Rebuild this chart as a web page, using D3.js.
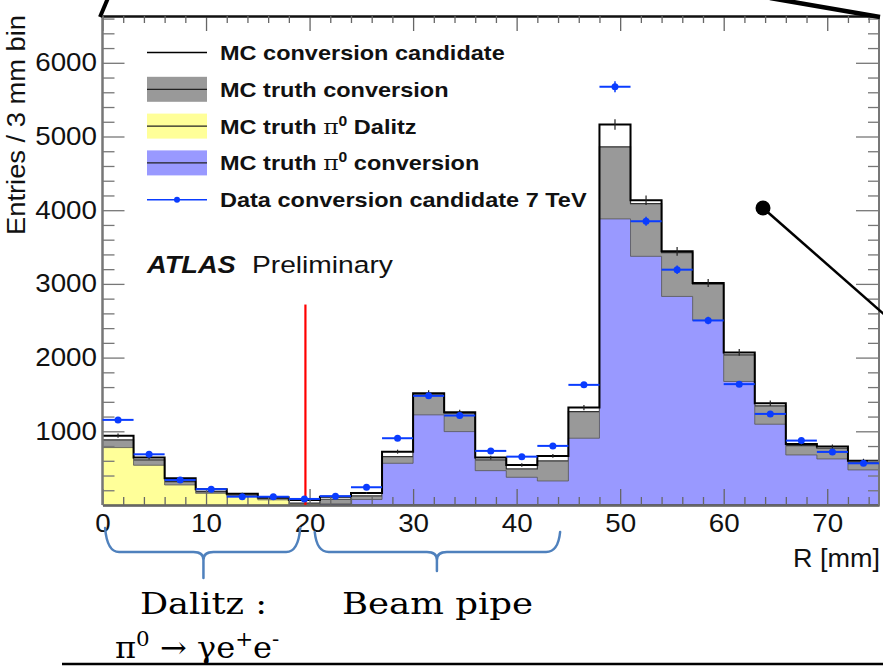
<!DOCTYPE html>
<html><head><meta charset="utf-8">
<script src="https://cdn.jsdelivr.net/npm/d3@7/dist/d3.min.js"></script>
<style>body{margin:0;background:#fff;} svg{display:block;}</style>
</head><body><svg id="c" width="883" height="671"></svg>
<script>
// ---------------- data ----------------
const binStart = [0,3,6,9,12,15,18,21,24,27,30,33,36,39,42,45,48,51,54,57,60,63,66,69,72];
const binWidth = 3;
const mcCandidate    = [941,643,362,213,154,102,68,113,162,724,1517,1259,643,543,666,1322,5163,4135,3442,3012,2070,1381,829,793,602];
const mcCandidateErr = [30,25,19,15,12,10,8,11,13,27,39,35,25,23,26,36,72,64,59,55,45,37,29,28,25];
const mcTruthConv    = [883,611,317,181,136,92,25,78,124,656,1495,1246,611,489,598,1268,4860,4090,3425,2995,2038,1345,806,770,580];
const mcPi0Dalitz    = [779,539,272,159,118,70,12,0,0,0,0,0,0,0,0,0,0,0,0,0,0,0,0,0,0];
const mcPi0Conv      = [0,0,0,0,0,0,8,15,75,566,1223,996,466,376,326,906,3882,3374,2830,2504,1676,1096,679,625,476];
const dataCand       = [1155,688,340,215,113,112,82,120,240,906,1481,1214,734,656,802,1630,5675,3850,3193,2504,1640,1236,874,720,566];
const dataErr        = [34,26,18,15,11,11,9,11,15,30,38,35,27,26,28,40,75,62,57,50,40,35,30,27,24];

const xMajorTicks = [0,10,20,30,40,50,60,70];
const xMinorTicks = [2,4,6,8,12,14,16,18,22,24,26,28,32,34,36,38,42,44,46,48,52,54,56,58,62,64,66,68,72,74];
const yMajorTicks = [1000,2000,3000,4000,5000,6000];
const yMinorTicks = [200,400,600,800,1200,1400,1600,1800,2200,2400,2600,2800,3200,3400,3600,3800,4200,4400,4600,4800,5200,5400,5600,5800,6200,6400,6600];

const legendLabels = ["MC conversion candidate","MC truth conversion","MC truth π0 Dalitz","MC truth π0 conversion","Data conversion candidate 7 TeV"];
const xLabel = "R [mm]";
const yLabel = "Entries / 3 mm bin";
const redLineX = 19.6, redLineTop = 2720;
const braces = [{from:0.25,to:19.1,tip:9.75,label:"Dalitz :"},{from:20.5,to:44.2,tip:32.3,label:"Beam pipe"}];

// ---------------- layout ----------------
const svg = d3.select("#c");
const X0 = 102.5, X1 = 879, Y0 = 505, Y1 = 16;
const x = d3.scaleLinear().domain([0,75]).range([X0,X1]);
const y = d3.scaleLinear().domain([0,6635]).range([Y0,Y1]);
const SX = 1.11; // horizontal stretch of the original raster text

function steps(vals){
  const pts=[];
  vals.forEach((v,i)=>{pts.push([binStart[i],v]);pts.push([binStart[i]+binWidth,v]);});
  return pts;
}
const area = d3.area().x(d=>x(d[0])).y0(y(0)).y1(d=>y(d[1]));
const line = d3.line().x(d=>x(d[0])).y(d=>y(d[1]));

const g = svg.append("g");
g.append("path").attr("d",area(steps(mcTruthConv))).attr("fill","#999999");
g.append("path").attr("d",line(steps(mcTruthConv))).attr("fill","none").attr("stroke","#333").attr("stroke-width",1.2);
g.append("path").attr("d",area(steps(mcPi0Conv))).attr("fill","#9999ff");
g.append("path").attr("d",line(steps(mcPi0Conv))).attr("fill","none").attr("stroke","#555").attr("stroke-width",0.8);
g.append("path").attr("d",area(steps(mcPi0Dalitz))).attr("fill","#ffff99");
g.append("path").attr("d",line(steps(mcPi0Dalitz))).attr("fill","none").attr("stroke","#555").attr("stroke-width",0.8);
g.append("path").attr("d",line(steps(mcCandidate))).attr("fill","none").attr("stroke","#000").attr("stroke-width",2);
g.selectAll("line.ce").data(mcCandidate).join("line").attr("class","ce")
  .attr("x1",(d,i)=>x(binStart[i]+binWidth/2)).attr("x2",(d,i)=>x(binStart[i]+binWidth/2))
  .attr("y1",(d,i)=>y(d-mcCandidateErr[i])).attr("y2",(d,i)=>y(d+mcCandidateErr[i]))
  .attr("stroke","#222").attr("stroke-width",1.2);

// axes
function styleAxis(sel,color){
  sel.selectAll("line").attr("stroke",color).attr("stroke-width",1.3);
  sel.select(".domain").attr("stroke",color).attr("stroke-width",2);
  sel.selectAll("text").attr("font-family","'Liberation Sans', Arial, sans-serif").attr("font-size",25).attr("fill","#111");
}
const axB = svg.append("g").attr("transform",`translate(0,${Y0})`)
  .call(d3.axisBottom(x).tickValues(xMajorTicks).tickSize(-16).tickSizeOuter(0).tickPadding(9).tickFormat(d3.format("d")));
styleAxis(axB,"#666");
axB.selectAll("text").attr("transform",`scale(${SX},1)`);
const axBm = svg.append("g").attr("transform",`translate(0,${Y0})`)
  .call(d3.axisBottom(x).tickValues(xMinorTicks).tickSize(-8).tickSizeOuter(0).tickFormat(""));
styleAxis(axBm,"#666");
const axT = svg.append("g").attr("transform",`translate(0,${Y1})`)
  .call(d3.axisTop(x).tickValues(xMajorTicks).tickSize(-15).tickSizeOuter(0).tickFormat(""));
styleAxis(axT,"#666");
const axTm = svg.append("g").attr("transform",`translate(0,${Y1})`)
  .call(d3.axisTop(x).tickValues(xMinorTicks).tickSize(-7).tickSizeOuter(0).tickFormat(""));
styleAxis(axTm,"#666");
axT.select(".domain").attr("stroke","#111"); axTm.select(".domain").attr("stroke","#111");
const axL = svg.append("g").attr("transform",`translate(${X0},0)`)
  .call(d3.axisLeft(y).tickValues(yMajorTicks).tickSize(-22).tickSizeOuter(0).tickPadding(5).tickFormat(d3.format("d")));
styleAxis(axL,"#777");
axL.selectAll("text").attr("transform",`scale(${SX},1)`);
const axLm = svg.append("g").attr("transform",`translate(${X0},0)`)
  .call(d3.axisLeft(y).tickValues(yMinorTicks).tickSize(-12).tickSizeOuter(0).tickFormat(""));
styleAxis(axLm,"#777");
const axR = svg.append("g").attr("transform",`translate(${X1},0)`)
  .call(d3.axisRight(y).tickValues(yMajorTicks).tickSize(-23).tickSizeOuter(0).tickFormat(""));
styleAxis(axR,"#777");
const axRm = svg.append("g").attr("transform",`translate(${X1},0)`)
  .call(d3.axisRight(y).tickValues(yMinorTicks).tickSize(-11).tickSizeOuter(0).tickFormat(""));
styleAxis(axRm,"#777");
[axL,axLm,axR,axRm].forEach(a=>a.select(".domain").attr("d",`M0,${Y0}V${Y1}`));
axB.select(".domain").attr("stroke","#333");

// red line
svg.append("line").attr("x1",x(redLineX)).attr("x2",x(redLineX)).attr("y1",y(0)).attr("y2",y(redLineTop))
  .attr("stroke","#ff0000").attr("stroke-width",2.2);

// data points
const BLUE = "#0a3cff";
const dp = svg.append("g");
dataCand.forEach((v,i)=>{
  const cx = x(binStart[i]+binWidth/2);
  dp.append("line").attr("x1",x(binStart[i])).attr("x2",x(binStart[i]+binWidth)).attr("y1",y(v)).attr("y2",y(v)).attr("stroke",BLUE).attr("stroke-width",2);
  dp.append("line").attr("x1",cx).attr("x2",cx).attr("y1",y(v-dataErr[i])).attr("y2",y(v+dataErr[i])).attr("stroke",BLUE).attr("stroke-width",1.5);
  dp.append("circle").attr("cx",cx).attr("cy",y(v)).attr("r",3.5).attr("fill",BLUE);
});

function sText(parent,tx,ty,opts){
  const gg = parent.append("g").attr("transform",`translate(${tx},${ty}) scale(${opts.sx||SX},1)`);
  return gg.append("text").attr("font-family",opts.family||"'Liberation Sans', Arial, sans-serif")
    .attr("font-size",opts.size||21).attr("font-weight",opts.weight||"normal")
    .attr("font-style",opts.style||"normal").attr("text-anchor",opts.anchor||"start").attr("fill",opts.fill||"#111");
}

// legend
const LX = 147, LW = 60, LTX = 220, LY0 = 60, LDY = 36.8;
const lg = svg.append("g");
const fills = [null,"#999999","#ffff99","#9999ff",null];
legendLabels.forEach((lab,i)=>{
  const base = LY0 + i*LDY, cy = base - 7.5;
  if(fills[i]){
    lg.append("rect").attr("x",LX).attr("y",cy-12.5).attr("width",LW).attr("height",25).attr("fill",fills[i]);
    lg.append("line").attr("x1",LX).attr("x2",LX+LW).attr("y1",cy).attr("y2",cy).attr("stroke","#222").attr("stroke-width",1.2);
  } else if(i===0){
    lg.append("line").attr("x1",LX).attr("x2",LX+LW).attr("y1",cy).attr("y2",cy).attr("stroke","#000").attr("stroke-width",1.6);
  } else {
    lg.append("line").attr("x1",LX).attr("x2",LX+LW).attr("y1",cy).attr("y2",cy).attr("stroke",BLUE).attr("stroke-width",1.6);
    lg.append("circle").attr("cx",LX+LW/2).attr("cy",cy).attr("r",3).attr("fill",BLUE);
  }
  const t = sText(lg,LTX,base,{size:21,weight:"bold",sx:1.12});
  const m = lab.match(/^(.*)π0(.*)$/);
  if(m){
    t.append("tspan").text(m[1]);
    t.append("tspan").attr("font-family","'DejaVu Serif', serif").attr("font-weight","normal").text("π");
    t.append("tspan").attr("font-size",14).attr("dy",-8).text("0");
    t.append("tspan").attr("dy",8).text(m[2]);
  } else t.text(lab);
});

// ATLAS Preliminary
sText(svg,147,273,{size:23.5,weight:"bold",style:"italic",sx:1.16}).text("ATLAS");
sText(svg,252,273,{size:23.5,sx:1.2}).text("Preliminary");

// axis titles
sText(svg,880,567,{size:25,anchor:"end",sx:1.08}).text(xLabel);
svg.append("text").attr("transform","translate(25,125) rotate(-90)").attr("text-anchor","middle")
  .attr("font-family","'Liberation Sans', Arial, sans-serif").attr("font-size",25).attr("fill","#111")
  .attr("textLength",220).attr("lengthAdjust","spacingAndGlyphs").text(yLabel);

// braces
const BR = "#4f81bd";
function bracePath(x1,x2,xt,yTop,yMid,yTip){
  const r=10;
  return `M${x1},${yTop} Q${x1+2},${yMid} ${x1+r+4},${yMid} L${xt-r},${yMid} Q${xt},${yMid} ${xt},${yMid+8} L${xt},${yTip}`+
         ` M${xt},${yMid+8} Q${xt},${yMid} ${xt+r},${yMid} L${x2-r-4},${yMid} Q${x2-2},${yMid} ${x2},${yTop}`;
}
const braceGeom = [{yTop:528,yMid:552,yTip:578},{yTop:532,yMid:552,yTip:571}];
braces.forEach((b,i)=>{
  const geo = braceGeom[i];
  svg.append("path").attr("d",bracePath(x(b.from),x(b.to),x(b.tip),geo.yTop,geo.yMid,geo.yTip))
    .attr("fill","none").attr("stroke",BR).attr("stroke-width",2.5).attr("stroke-linecap","round");
});
svg.append("text").attr("x",140).attr("y",614).attr("font-family","'DejaVu Serif', serif").attr("font-size",30)
  .attr("textLength",127).attr("lengthAdjust","spacingAndGlyphs").attr("fill","#000").text(braces[0].label);
svg.append("text").attr("x",342).attr("y",614).attr("font-family","'DejaVu Serif', serif").attr("font-size",30)
  .attr("textLength",191).attr("lengthAdjust","spacingAndGlyphs").attr("fill","#000").text(braces[1].label);
const pt = svg.append("g").attr("transform","translate(115,658) scale(1.07,1)")
  .append("text").attr("font-family","'DejaVu Serif', serif").attr("font-size",30).attr("fill","#000");
pt.append("tspan").text("π");
pt.append("tspan").attr("font-size",20).attr("dy",-12).text("0");
pt.append("tspan").attr("dy",12).text(" → γe");
pt.append("tspan").attr("font-size",20).attr("dy",-12).text("+");
pt.append("tspan").attr("dy",12).text("e");
pt.append("tspan").attr("font-size",20).attr("dy",-12).text("-");

// slide overlay lines
const ov = svg.append("g").attr("stroke","#000").attr("fill","none");
ov.append("line").attr("x1",100).attr("y1",17).attr("x2",108).attr("y2",-2).attr("stroke-width",4);
ov.append("line").attr("x1",880).attr("y1",17).attr("x2",770).attr("y2",-2).attr("stroke-width",4.5);
ov.append("line").attr("x1",763).attr("y1",208).attr("x2",886).attr("y2",316).attr("stroke-width",2.5);
svg.append("circle").attr("cx",763).attr("cy",208).attr("r",7.5).attr("fill","#000");
ov.append("line").attr("x1",62).attr("y1",664).attr("x2",883).attr("y2",664).attr("stroke-width",2.5);
</script></body></html>
